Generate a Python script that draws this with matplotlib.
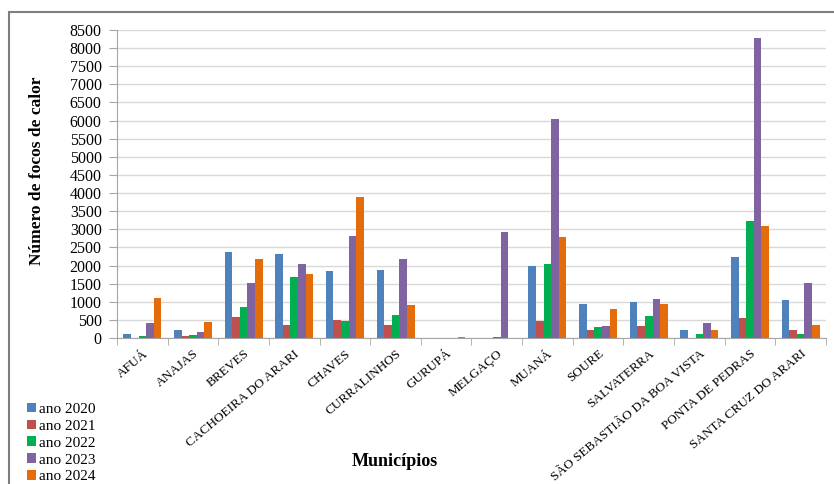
import numpy as np
import matplotlib.pyplot as plt
from matplotlib.patches import Patch, Rectangle

plt.rcParams['font.family'] = ['Liberation Serif', 'DejaVu Serif']

# -----------------------------
# DATA
# -----------------------------
municipios = ["AFUÁ", "ANAJAS", "BREVES", "CACHOEIRA DO ARARI", "CHAVES",
              "CURRALINHOS", "GURUPÁ", "MELGAÇO", "MUANÁ", "SOURE",
              "SALVATERRA", "SÃO SEBASTIÃO DA BOA VISTA", "PONTA DE PEDRAS",
              "SANTA CRUZ DO ARARI"]

ano_2020 = [120, 230, 2360, 2315, 1845, 1890, 0, 0, 2000, 930, 985, 230, 2230, 1035]
ano_2021 = [0, 45, 570, 370, 490, 370, 0, 0, 460, 230, 340, 0, 545, 210]
ano_2022 = [45, 75, 850, 1690, 460, 645, 0, 25, 2030, 295, 620, 100, 3230, 100]
ano_2023 = [415, 160, 1505, 2050, 2825, 2170, 0, 2935, 6050, 325, 1070, 415, 8290, 1520]
ano_2024 = [1115, 440, 2170, 1755, 3885, 915, 30, 0, 2775, 795, 930, 210, 3090, 350]

series = [ano_2020, ano_2021, ano_2022, ano_2023, ano_2024]
labels = ["ano 2020", "ano 2021", "ano 2022", "ano 2023", "ano 2024"]
colors = ["#4F81BD", "#C0504D", "#00B050", "#8064A2", "#E46C0A"]

# -----------------------------
# FIGURE
# -----------------------------
fig = plt.figure(figsize=(8.34, 4.84), dpi=100)
ax = fig.add_axes([117 / 834, 146 / 484, 709 / 834, 308 / 484])

x = np.arange(len(municipios))
w = 0.15
for i, (vals, col) in enumerate(zip(series, colors)):
    ax.bar(x + (i - 2) * w, vals, width=w, color=col, zorder=3)

ax.set_xlim(-0.5, len(municipios) - 0.5)
ax.set_ylim(0, 8500)
ax.set_yticks(np.arange(0, 8501, 500))
ax.grid(axis="y", color="#D9D9D9", linewidth=1, zorder=0)

ax.set_xticks(x)
ax.set_xticklabels(municipios, rotation=40, ha="right", rotation_mode="anchor", fontsize=9.5)
ax.set_xticks(np.arange(-0.5, len(municipios)), minor=True)
ax.tick_params(axis="x", which="major", length=0, pad=7)
ax.tick_params(axis="x", which="minor", length=5, color="#A6A6A6", direction="out")
ax.tick_params(axis="y", length=6, color="#A6A6A6", labelsize=11.5, pad=5)

for s in ["top", "right"]:
    ax.spines[s].set_visible(False)
ax.spines["left"].set_color("#A6A6A6")
ax.spines["bottom"].set_color("#A6A6A6")

ax.set_ylabel("Número de focos de calor", fontsize=12.5, fontweight="bold")
ax.yaxis.set_label_coords(-0.1015, 0.542)
fig.text(395 / 834, 1 - 462 / 484, "Municípios", fontsize=13, fontweight="bold",
         ha="center", va="center")

handles = [Patch(facecolor=c, edgecolor="none") for c in colors]
fig.legend(handles, labels, loc="upper left", bbox_to_anchor=(19 / 834, 1 - 395 / 484),
           frameon=False, fontsize=11, handlelength=0.6, handleheight=0.6,
           handletextpad=0.2, labelspacing=0.24, borderpad=0)

# outer frame of the chart area
fig.patches.append(Rectangle((9 / 834, -0.1), 1.2, 0.1 + (484 - 12) / 484,
                             transform=fig.transFigure, fill=False,
                             edgecolor="#7F7F7F", linewidth=1.5))

fig.savefig("out.png", dpi=100)
